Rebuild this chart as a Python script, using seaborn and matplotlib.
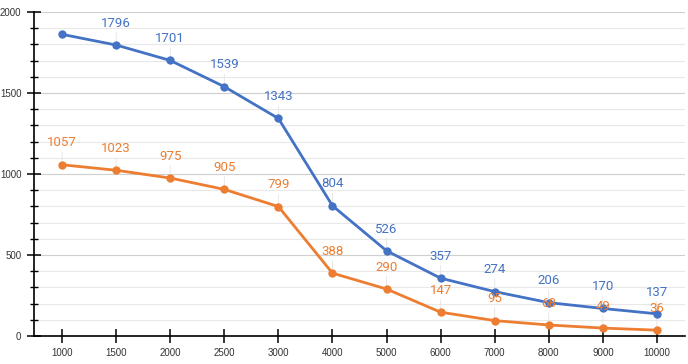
import matplotlib
matplotlib.use("Agg")
import matplotlib.pyplot as plt
import numpy as np
import pandas as pd
import seaborn as sns
from matplotlib.ticker import MultipleLocator

# data
sizes = ["1000", "1500", "2000", "2500", "3000", "4000", "5000", "6000", "7000", "8000", "9000", "10000"]
blue_vals = [1862, 1796, 1701, 1539, 1343, 804, 526, 357, 274, 206, 170, 137]
orange_vals = [1057, 1023, 975, 905, 799, 388, 290, 147, 95, 68, 49, 36]

blue = "#4472C4"
orange = "#ED7D31"

df = pd.DataFrame({
    "size": sizes * 2,
    "pos": list(range(len(sizes))) * 2,
    "value": blue_vals + orange_vals,
    "series": ["A"] * len(sizes) + ["B"] * len(sizes),
})

sns.set_style("white")
plt.rcParams["font.family"] = ["Liberation Sans", "DejaVu Sans"]

fig = plt.figure(figsize=(6.88, 3.64), dpi=100)
ax = fig.add_axes([34 / 688, 28 / 364, 651 / 688, 324 / 364])

sns.lineplot(data=df, x="pos", y="value", hue="series", palette=[blue, orange],
             marker="o", markersize=6, markeredgewidth=0, linewidth=2,
             legend=False, ax=ax, zorder=3)

# value labels with faint leader lines
for vals, col, skip_first in [(blue_vals, blue, True), (orange_vals, orange, False)]:
    for i, v in enumerate(vals):
        if skip_first and i == 0:
            continue
        ax.annotate(str(v), (i, v), xytext=(0, 11), textcoords="offset points",
                    ha="center", va="bottom", color=col, fontsize=9.5,
                    family=["Roboto", "DejaVu Sans"], zorder=4)
        ax.annotate("", (i, v), xytext=(0, 11), textcoords="offset points",
                    arrowprops=dict(arrowstyle="-", color="#e4e4e4", lw=0.6), zorder=1)

ax.set_xlim(-0.52, len(sizes) - 0.48)
ax.set_ylim(0, 2000)
ax.set_xticks(range(len(sizes)))
ax.set_xticklabels(sizes)
ax.yaxis.set_major_locator(MultipleLocator(500))
ax.yaxis.set_minor_locator(MultipleLocator(100))

ax.grid(which="major", axis="y", color="#cfcfcf", lw=0.8)
ax.grid(which="minor", axis="y", color="#e8e8e8", lw=0.8)
ax.set_axisbelow(True)

for s in ["top", "right"]:
    ax.spines[s].set_visible(False)
for s in ["left", "bottom"]:
    ax.spines[s].set_color("black")
    ax.spines[s].set_linewidth(1.2)

ax.tick_params(axis="x", which="major", bottom=True, direction="inout", length=10, width=1.1,
               color="black", labelsize=7, labelcolor="#333333", pad=4)
ax.tick_params(axis="y", which="major", left=True, direction="inout", length=10, width=1.1,
               color="black", labelsize=7, labelcolor="#333333", pad=4)
ax.tick_params(axis="y", which="minor", left=True, direction="inout", length=6, width=1.0,
               color="black")

ax.set_xlabel("")
ax.set_ylabel("")

fig.savefig("out.png", dpi=100)
